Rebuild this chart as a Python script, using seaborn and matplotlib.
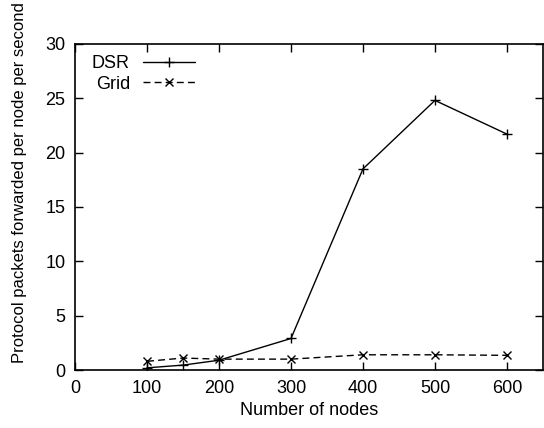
import matplotlib
matplotlib.use("Agg")
import matplotlib.pyplot as plt
import seaborn as sns
import pandas as pd

nodes = [100, 150, 200, 300, 400, 500, 600]
dsr = [0.2, 0.45, 0.9, 2.9, 18.5, 24.8, 21.7]
grid = [0.8, 1.1, 1.0, 1.0, 1.4, 1.4, 1.35]
x_ticks = [0, 100, 200, 300, 400, 500, 600]
y_ticks = [0, 5, 10, 15, 20, 25, 30]

sns.set_style("ticks")
plt.rcParams['font.family'] = ['Liberation Sans', 'DejaVu Sans']
plt.rcParams['font.size'] = 13
plt.rcParams['text.color'] = 'black'
plt.rcParams['axes.labelcolor'] = 'black'

df = pd.DataFrame({"nodes": nodes * 2, "value": dsr + grid,
                   "series": ["DSR"] * len(nodes) + ["Grid"] * len(nodes)})

fig = plt.figure(figsize=(5.44, 4.28), dpi=100)
ax = fig.add_axes([0.138, 0.1355, 0.860, 0.762])

sns.lineplot(data=df[df.series == "DSR"], x="nodes", y="value", ax=ax,
             color="black", linewidth=1.0, marker="+", markersize=6.5,
             markeredgewidth=1.0, markeredgecolor="black", label="DSR")
sns.lineplot(data=df[df.series == "Grid"], x="nodes", y="value", ax=ax,
             color="black", linewidth=1.0, linestyle=(0, (5, 3)), marker="x",
             markersize=5.5, markeredgewidth=1.0, markeredgecolor="black",
             label="Grid")

ax.set_xlim(0, 650)
ax.set_ylim(0, 30)
ax.set_xticks(x_ticks)
ax.set_yticks(y_ticks)
ax.tick_params(direction="in", top=True, right=True, length=6, width=1,
               labelsize=13, pad=7, colors="black")
for s in ax.spines.values():
    s.set_visible(True)
    s.set_linewidth(1.2)
    s.set_color("black")

ax.set_xlabel("Number of nodes", fontsize=13, labelpad=4, color="black")
ax.set_ylabel("Protocol packets forwarded per node per second", fontsize=12,
              color="black")
ax.yaxis.set_label_coords(-0.1026, 0.574)

leg = ax.legend(loc="upper left", bbox_to_anchor=(0.036, 0.966),
                markerfirst=False, frameon=False,
                handlelength=2.9, handletextpad=0.7, labelspacing=0.2,
                borderaxespad=0.0, borderpad=0.0, fontsize=13)
for t in leg.get_texts():
    t.set_color("black")

fig.savefig("out.png", dpi=100)
